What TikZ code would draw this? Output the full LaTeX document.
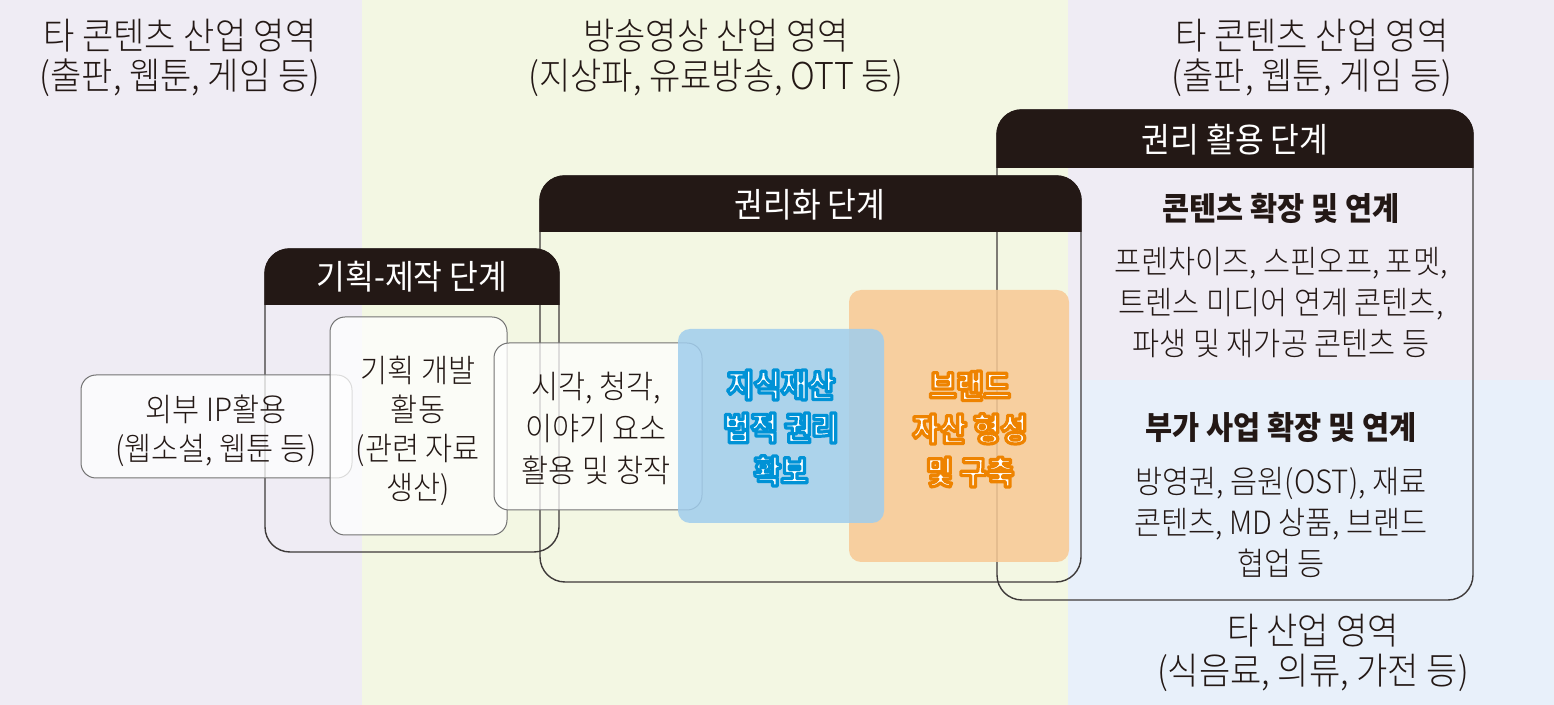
\documentclass[tikz,border=0pt]{standalone}
\usepackage{fontspec}
\setmainfont{Noto Sans CJK KR}[FakeStretch=0.92]
\newfontfamily\lightfont{Noto Sans CJK KR Light}[FakeStretch=0.92]
\usepackage{tikz}
\usetikzlibrary{fit}
\definecolor{bgside}{RGB}{239,236,244}
\definecolor{bgmid}{RGB}{243,247,227}
\definecolor{bgother}{RGB}{232,240,250}
\definecolor{hdrcol}{RGB}{35,24,21}
\definecolor{linecol}{RGB}{62,58,57}
\definecolor{inkcol}{RGB}{35,24,21}
\definecolor{boxblue}{RGB}{160,205,237}
\definecolor{boxorange}{RGB}{248,201,148}
% white letters with a coloured rim (fill + stroke)
\newcommand{\rimmed}[2]{\special{pdf:literal direct 1 j 1 J 1.6 w #1 RG 2 Tr}#2\special{pdf:literal direct 0 Tr}}
\tikzstyle{stage}=[draw=linecol,line width=0.7pt,rounded corners=12.5pt,inner sep=0pt]
\tikzstyle{headtxt}=[text=white,font=\fontsize{17}{20}\selectfont]
\tikzstyle{card}=[draw=black!55,line width=0.5pt,fill=white,fill opacity=0.75,rounded corners=7.5pt,inner sep=0pt]
\tikzstyle{ipbox}=[fill=boxblue,fill opacity=0.85,rounded corners=6pt,inner sep=0pt]
\tikzstyle{brandbox}=[fill=boxorange,fill opacity=0.85,rounded corners=6pt,inner sep=0pt]
\tikzstyle{txt}=[align=center,text=inkcol,font=\fontsize{16}{19.5}\lightfont]
\tikzstyle{subhead}=[align=center,text=inkcol,font=\fontsize{16}{20}\selectfont\bfseries]
\tikzstyle{keytxt}=[align=center,text=white,font=\fontsize{16}{21.5}\selectfont\bfseries]
\tikzstyle{area}=[align=center,text=inkcol,font=\fontsize{18.5}{20}\lightfont]

\begin{document}
\begin{tikzpicture}[x=0.5pt,y=-0.5pt]
      \useasboundingbox (0,0) rectangle (1554,705);
      % industry areas
      \fill[bgside] (0,0) rectangle (362,705);
      \fill[bgmid] (362,0) rectangle (1068,705);
      \fill[bgside] (1068,0) rectangle (1554,380);
      \fill[bgother] (1068,380) rectangle (1554,705);
      \node[area] at (180,58) (leftarea) {타 콘텐츠 산업 영역\\(출판, 웹툰, 게임 등)};
      \node[area] at (716,58) (midarea) {방송영상 산업 영역\\(지상파, 유료방송, OTT 등)};
      \node[area] at (1312,58) (rightarea) {타 콘텐츠 산업 영역\\(출판, 웹툰, 게임 등)};
      \node[area] at (1313,653) (otherarea) {타 산업 영역\\(식음료, 의류, 가전 등)};
      % stages
      \node[stage,fit={(997,110) (1473,600)}] (use) {};
      \begin{scope}
        \clip (use.north west) rectangle ([yshift=-29pt]use.north east);
        \fill[hdrcol,rounded corners=12.5pt] (use.north west) rectangle (use.south east);
      \end{scope}
      \node[headtxt] at (1235,140) (useT) {권리 활용 단계};
      \node[stage,fit={(540,176) (1081,582)}] (rights) {};
      \begin{scope}
        \clip (rights.north west) rectangle ([yshift=-28pt]rights.north east);
        \fill[hdrcol,rounded corners=12.5pt] (rights.north west) rectangle (rights.south east);
      \end{scope}
      \node[headtxt] at (810,205) (rightsT) {권리화 단계};
      \node[stage,fit={(265,249) (559,552)}] (plan) {};
      \begin{scope}
        \clip (plan.north west) rectangle ([yshift=-28pt]plan.north east);
        \fill[hdrcol,rounded corners=12.5pt] (plan.north west) rectangle (plan.south east);
      \end{scope}
      \node[headtxt] at (412,277) (planT) {기획-제작 단계};
      % steps
      \node[card,fit={(81,375) (352,478)}] (ext) {};
      \node[card,fit={(330,317) (507,535)}] (dev) {};
      \node[card,fit={(494,343) (702,510)}] (idea) {};
      \node[brandbox,fit={(849,290) (1069,562)}] (brand) {};
      \node[ipbox,fit={(678,329) (884,523)}] (ip) {};
      \node[txt] at (216,431) (extT) {외부 IP활용\\(웹소설, 웹툰 등)};
      \node[txt] at (418,431) (devT) {기획 개발\\활동\\(관련 자료\\생산)};
      \node[txt,font=\fontsize{16}{21}\lightfont] at (596,428) (ideaT) {시각, 청각,\\이야기 요소\\활용 및 창작};
      \node[keytxt] at (781,428) (ipT) {\rimmed{0 0.573 0.839}{지식재산\\법적 권리\\확보}};
      \node[keytxt] at (970,429) (brandT) {\rimmed{0.933 0.514 0}{브랜드\\자산 형성\\및 구축}};
      % use of rights
      \node[subhead] at (1281,208) (extendT) {콘텐츠 확장 및 연계};
      \node[txt,font=\fontsize{16}{20.5}\lightfont] at (1281,303) (extendL) {프렌차이즈, 스핀오프, 포멧,\\트렌스 미디어 연계 콘텐츠,\\파생 및 재가공 콘텐츠 등};
      \node[subhead] at (1281,427) (bizT) {부가 사업 확장 및 연계};
      \node[txt,font=\fontsize{16}{20.5}\lightfont] at (1281,522) (bizL) {방영권, 음원(OST), 재료\\콘텐츠, MD 상품, 브랜드\\협업 등};
    \end{tikzpicture}
\end{document}
